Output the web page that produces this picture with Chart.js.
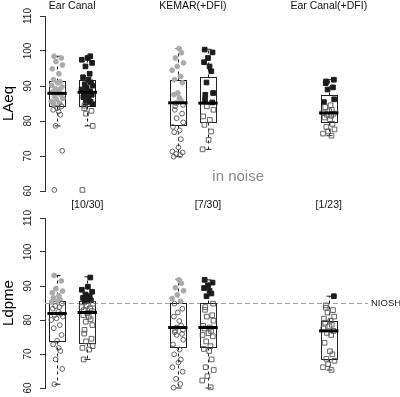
<!DOCTYPE html>
<html>
<head>
<meta charset="utf-8">
<script src="https://cdn.jsdelivr.net/npm/chart.js@4.4.1/dist/chart.umd.min.js"></script>
<style>
  html, body { margin: 0; padding: 0; background: #fff; }
  #wrap { position: relative; width: 400px; height: 397px; }
  canvas { position: absolute; left: 0; }
</style>
</head>
<body>
<div id="wrap">
  <canvas id="laeq" width="400" height="200" style="top:0"></canvas>
  <canvas id="ldpme" width="400" height="197" style="top:200px"></canvas>
</div>
<script>
// box positions on the x axis (ear canal pair, KEMAR pair, ear canal +DFI)
const POSITIONS = [1, 2, 5, 6, 10];
const MARKERS = ['circle', 'rect', 'circle', 'rect', 'rect'];
const GROUP_TITLES = ['Ear Canal', 'KEMAR(+DFI)', 'Ear Canal(+DFI)'];
const GROUP_TITLE_POS = [1.5, 5.5, 10];
const EXCEED_LABELS = ['[10/30]', '[7/30]', '[1/23]'];
const EXCEED_POS = [2, 6, 10];
const NIOSH_LIMIT = 85;
const Y_TICKS = [60, 70, 80, 90, 100, 110];

// LAeq panel - filled points are above 85, open points the rest
const LAEQ_EC_CIRC_FILLED = [98.5, 98.0, 97.0, 96.0, 94.9, 93.5, 91.8, 91.2, 90.9, 90.2, 89.7, 89.2, 88.9, 88.3, 88.0, 87.5, 87.0, 86.5, 86.1, 85.6, 85.1, 84.8];
const LAEQ_EC_CIRC_OPEN = [84.2, 83.7, 83.2, 82.7, 81.8, 78.6, 71.5, 60.3];
const LAEQ_EC_SQ_FILLED = [98.5, 98.0, 97.5, 96.6, 95.6, 93.5, 92.5, 91.8, 91.0, 90.5, 90.1, 89.4, 89.0, 88.5, 88.0, 87.5, 87.0, 86.8, 86.1, 85.5, 85.2, 84.8];
const LAEQ_EC_SQ_OPEN = [84.4, 83.7, 82.9, 82.1, 78.6, 60.3];
const LAEQ_KEMAR_CIRC_FILLED = [100.7, 99.5, 98.0, 96.6, 95.6, 94.5, 92.7, 91.8, 90.9, 88.0, 87.5, 86.6, 85.8];
const LAEQ_KEMAR_CIRC_OPEN = [85.1, 84.6, 84.2, 83.2, 82.1, 80.8, 79.6, 78.3, 77.3, 76.8, 74.8, 72.5, 71.3, 71.0, 70.6, 70.3, 69.8];
const LAEQ_KEMAR_SQ_FILLED = [100.4, 99.6, 98.0, 96.8, 95.6, 94.2, 91.0, 88.0, 87.5, 86.1, 85.3];
const LAEQ_KEMAR_SQ_OPEN = [84.2, 83.2, 81.3, 80.3, 78.9, 77.0, 74.6, 71.9];
const LAEQ_ECDFI_SQ_FILLED = [91.8, 91.3, 90.8, 89.6, 89.0, 86.2, 85.4];
const LAEQ_ECDFI_SQ_OPEN = [84.5, 84.0, 83.2, 82.8, 82.4, 82.1, 81.8, 81.5, 81.0, 80.5, 79.2, 78.3, 77.6, 77.0, 76.4, 75.8];
// [lower whisker, Q1, median, Q3, upper whisker]
const LAEQ_BOX = [
  [78.6, 84.2, 87.9, 91.5, 98.5],
  [78.6, 84.2, 88.2, 91.6, 98.5],
  [69.8, 78.9, 85.2, 91.6, 100.7],
  [71.9, 79.6, 85.1, 92.5, 100.5],
  [75.8, 79.7, 82.3, 87.5, 91.8]
];

// Ldpme panel - filled points exceed the NIOSH limit
const LDPME_EC_CIRC_FILLED = [93.1, 91.5, 89.2, 88.5, 88.0, 87.1, 86.5, 86.0, 85.6, 85.3];
const LDPME_EC_CIRC_OPEN = [84.8, 84.1, 83.8, 83.3, 82.4, 81.8, 81.4, 81.0, 80.5, 80.0, 78.5, 77.6, 75.6, 73.9, 72.8, 71.8, 70.9, 68.4, 65.6, 61.1];
const LDPME_EC_SQ_FILLED = [92.5, 89.8, 88.9, 88.3, 87.5, 87.0, 86.5, 86.2, 85.8, 85.4];
const LDPME_EC_SQ_OPEN = [84.8, 84.2, 83.8, 83.4, 82.9, 82.6, 82.0, 81.4, 81.0, 80.2, 79.5, 78.5, 77.1, 76.0, 74.5, 73.7, 72.3, 71.8, 71.3, 68.4];
const LDPME_KEMAR_CIRC_FILLED = [91.8, 90.8, 89.5, 88.6, 87.4, 86.3, 85.5];
const LDPME_KEMAR_CIRC_OPEN = [84.8, 83.3, 82.2, 81.0, 79.7, 78.4, 77.8, 77.1, 76.9, 76.4, 75.9, 75.6, 74.2, 72.8, 71.3, 69.9, 68.4, 67.5, 66.1, 64.8, 62.7, 61.2, 60.1];
const LDPME_KEMAR_SQ_FILLED = [91.8, 91.0, 90.2, 89.4, 88.6, 87.8, 87.0];
const LDPME_KEMAR_SQ_OPEN = [84.8, 83.8, 83.0, 81.4, 81.0, 79.8, 78.3, 77.8, 77.5, 76.8, 76.1, 75.6, 75.2, 73.7, 72.3, 71.5, 70.9, 68.4, 66.1, 65.3, 63.5, 62.2, 60.2];
const LDPME_ECDFI_SQ_FILLED = [87.0];
const LDPME_ECDFI_SQ_OPEN = [84.3, 83.6, 82.9, 82.2, 81.0, 80.4, 79.8, 79.2, 78.6, 78.1, 77.5, 76.8, 76.2, 75.6, 73.3, 70.8, 69.9, 68.6, 68.0, 67.0, 66.1, 65.3];
const LDPME_BOX = [
  [61.1, 73.7, 81.9, 85.6, 93.1],
  [68.4, 73.3, 82.2, 85.6, 92.7],
  [60.0, 72.0, 77.8, 85.0, 92.0],
  [60.0, 72.0, 77.8, 85.0, 91.8],
  [65.3, 68.6, 76.8, 79.8, 87.0]
];

// fixed horizontal spread of the strip points (x units)
const JITTER = [-0.1, 0.14, -0.04, 0.18, -0.16, 0.06, -0.12, 0.1, 0.02, -0.18, 0.16, -0.06, 0.08, -0.14, 0.04,
  0.12, -0.08, 0.19, -0.02, -0.19, 0.09, -0.11, 0.15, 0.0, -0.13, 0.05, 0.11, -0.05, 0.17, -0.09];

const FONT = 'Liberation Sans, Arial, Helvetica, sans-serif';
const BOX_HALF = 0.27;
const CAP_HALF = 0.1;

function strip(values, box, start) {
  return values.map((v, k) => ({ x: POSITIONS[box] + JITTER[(k + start + box * 7) % JITTER.length], y: v }));
}

function buildDatasets(filled, open) {
  const sets = [];
  for (let i = 0; i < POSITIONS.length; i++) {
    const isSq = MARKERS[i] === 'rect';
    sets.push({
      data: strip(open[i], i, filled[i].length),
      pointStyle: MARKERS[i],
      pointRadius: isSq ? 3.3 : 2.4,
      backgroundColor: 'rgba(0,0,0,0)',
      borderColor: '#555',
      borderWidth: 0.9,
      clip: false
    });
    sets.push({
      data: strip(filled[i], i, 0),
      pointStyle: MARKERS[i],
      pointRadius: isSq ? 3.3 : 2.4,
      backgroundColor: isSq ? '#1c1c1c' : '#aaaaaa',
      borderColor: isSq ? '#1c1c1c' : '#aaaaaa',
      borderWidth: 1,
      clip: false
    });
  }
  return sets;
}

function boxPlugin(stats, extra) {
  return {
    id: 'boxes',
    beforeDatasetsDraw(chart) {
      const { ctx, scales: { x, y }, chartArea } = chart;
      ctx.save();
      if (extra.niosh) {
        const py = Math.round(y.getPixelForValue(NIOSH_LIMIT)) + 0.5;
        ctx.strokeStyle = '#a0a0a0';
        ctx.lineWidth = 1;
        ctx.setLineDash([5, 3]);
        ctx.beginPath();
        ctx.moveTo(chartArea.left, py);
        ctx.lineTo(chartArea.right, py);
        ctx.stroke();
        ctx.setLineDash([]);
        ctx.fillStyle = '#222';
        ctx.font = '9.5px ' + FONT;
        ctx.textAlign = 'left';
        ctx.textBaseline = 'middle';
        ctx.fillText('NIOSH', chartArea.right + 3, py);
      }
      stats.forEach((s, i) => {
        const cx = Math.round(x.getPixelForValue(POSITIONS[i])) + 0.5;
        const half = x.getPixelForValue(POSITIONS[i] + BOX_HALF) - x.getPixelForValue(POSITIONS[i]);
        const cap = x.getPixelForValue(POSITIONS[i] + CAP_HALF) - x.getPixelForValue(POSITIONS[i]);
        const yLo = y.getPixelForValue(s[0]);
        const yQ1 = Math.round(y.getPixelForValue(s[1])) + 0.5;
        const yQ3 = Math.round(y.getPixelForValue(s[3])) + 0.5;
        const yHi = y.getPixelForValue(s[4]);
        ctx.strokeStyle = '#222';
        ctx.lineWidth = 1;
        ctx.setLineDash([3, 3]);
        ctx.beginPath();
        ctx.moveTo(cx, yQ3); ctx.lineTo(cx, yHi);
        ctx.moveTo(cx, yQ1); ctx.lineTo(cx, yLo);
        ctx.stroke();
        ctx.setLineDash([]);
        ctx.beginPath();
        ctx.moveTo(cx - cap, yHi); ctx.lineTo(cx + cap, yHi);
        ctx.moveTo(cx - cap, yLo); ctx.lineTo(cx + cap, yLo);
        ctx.stroke();
        ctx.strokeRect(Math.round(cx - half) + 0.5, yQ3, Math.round(2 * half), yQ1 - yQ3);
      });
      ctx.restore();
    },
    afterDatasetsDraw(chart) {
      const { ctx, scales: { x, y } } = chart;
      ctx.save();
      ctx.strokeStyle = '#000';
      ctx.lineWidth = 3;
      stats.forEach((s, i) => {
        const cx = x.getPixelForValue(POSITIONS[i]);
        const half = x.getPixelForValue(POSITIONS[i] + BOX_HALF) - cx + 1.5;
        const py = y.getPixelForValue(s[2]);
        ctx.beginPath();
        ctx.moveTo(cx - half, py); ctx.lineTo(cx + half, py);
        ctx.stroke();
      });
      ctx.restore();
    },
    afterDraw(chart) {
      const { ctx, scales: { x } } = chart;
      ctx.save();
      ctx.textAlign = 'center';
      ctx.textBaseline = 'middle';
      (extra.labels || []).forEach((t, i) => {
        ctx.fillStyle = '#111';
        ctx.font = '10.5px ' + FONT;
        ctx.fillText(t, x.getPixelForValue(extra.labelPos[i]), extra.labelY);
      });
      if (extra.note) {
        ctx.fillStyle = '#8a8a8a';
        ctx.font = '15px ' + FONT;
        ctx.fillText(extra.note, x.getPixelForValue(7.0), 177);
      }
      ctx.restore();
    }
  };
}

function makeChart(id, title, filled, open, stats, pad, extra) {
  return new Chart(document.getElementById(id).getContext('2d'), {
    type: 'scatter',
    data: { datasets: buildDatasets(filled, open) },
    options: {
      responsive: false,
      animation: false,
      events: [],
      layout: { padding: pad },
      plugins: { legend: { display: false }, tooltip: { enabled: false } },
      scales: {
        x: { type: 'linear', min: 0.6, max: 11.3, display: false },
        y: {
          min: 60,
          max: 110,
          afterFit(scale) { scale.width = 45; },
          afterBuildTicks(scale) { scale.ticks = Y_TICKS.map(v => ({ value: v })); },
          ticks: {
            minRotation: 90,
            maxRotation: 90,
            crossAlign: 'center',
            padding: 3,
            color: '#222',
            font: { family: FONT, size: 10 }
          },
          grid: { display: true, drawOnChartArea: false, drawTicks: true, tickLength: 5, color: '#333' },
          border: { display: true, color: '#333' },
          title: { display: true, text: title, padding: 0, color: '#000', font: { family: FONT, size: 15 } }
        }
      }
    },
    plugins: [boxPlugin(stats, extra)]
  });
}

makeChart('laeq', 'LAeq',
  [LAEQ_EC_CIRC_FILLED, LAEQ_EC_SQ_FILLED, LAEQ_KEMAR_CIRC_FILLED, LAEQ_KEMAR_SQ_FILLED, LAEQ_ECDFI_SQ_FILLED],
  [LAEQ_EC_CIRC_OPEN, LAEQ_EC_SQ_OPEN, LAEQ_KEMAR_CIRC_OPEN, LAEQ_KEMAR_SQ_OPEN, LAEQ_ECDFI_SQ_OPEN],
  LAEQ_BOX,
  { left: 0, right: 32, top: 16, bottom: 9 },
  { labels: GROUP_TITLES, labelPos: GROUP_TITLE_POS, labelY: 6, note: 'in noise' });

makeChart('ldpme', 'Ldpme',
  [LDPME_EC_CIRC_FILLED, LDPME_EC_SQ_FILLED, LDPME_KEMAR_CIRC_FILLED, LDPME_KEMAR_SQ_FILLED, LDPME_ECDFI_SQ_FILLED],
  [LDPME_EC_CIRC_OPEN, LDPME_EC_SQ_OPEN, LDPME_KEMAR_CIRC_OPEN, LDPME_KEMAR_SQ_OPEN, LDPME_ECDFI_SQ_OPEN],
  LDPME_BOX,
  { left: 0, right: 32, top: 18, bottom: 6 },
  { labels: EXCEED_LABELS, labelPos: EXCEED_POS, labelY: 5, niosh: true });
</script>
</body>
</html>
